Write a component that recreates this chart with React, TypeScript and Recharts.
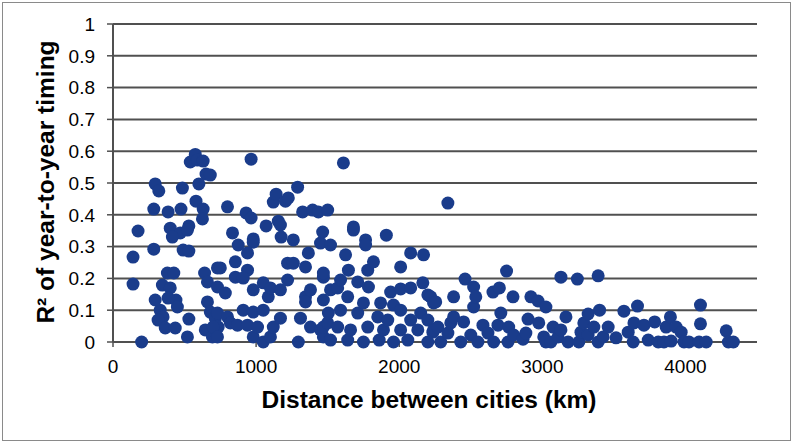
import React from 'react';
import { ScatterChart, Scatter, XAxis, YAxis, CartesianGrid } from 'recharts';

type Pt = [number, number];

// distance (km), R², grouped by distance band
const under1000: Pt[] = [
  [540, 0.566], [575, 0.59], [590, 0.572], [630, 0.569], [650, 0.528], [295, 0.497], [320, 0.475],
  [485, 0.484], [600, 0.497], [580, 0.443], [630, 0.418], [285, 0.418], [385, 0.409], [475, 0.418],
  [625, 0.387], [175, 0.349], [400, 0.358], [530, 0.365], [470, 0.343], [415, 0.33], [520, 0.352],
  [285, 0.292], [140, 0.267], [490, 0.289], [530, 0.286], [380, 0.217], [425, 0.217], [140, 0.182],
  [345, 0.179], [400, 0.17], [440, 0.132], [330, 0.1], [350, 0.079], [450, 0.11], [315, 0.069],
  [365, 0.044], [435, 0.044], [530, 0.072], [200, 0], [520, 0.016], [640, 0.217], [660, 0.189],
  [730, 0.233], [660, 0.126], [680, 0.094], [715, 0.075], [645, 0.038], [695, 0.016], [735, 0.047],
  [295, 0.132], [385, 0.138], [680, 0.525], [800, 0.425], [930, 0.406], [965, 0.39], [835, 0.343],
  [980, 0.324], [965, 0.575], [875, 0.305], [980, 0.314], [940, 0.28], [855, 0.252], [750, 0.233],
  [940, 0.226], [855, 0.204], [910, 0.201], [730, 0.173], [785, 0.154], [980, 0.164], [730, 0.091],
  [800, 0.079], [910, 0.1], [980, 0.094], [700, 0.047], [820, 0.06], [870, 0.053], [940, 0.053],
  [730, 0.016], [980, 0.016],
];

const from1000: Pt[] = [
  [1010, 0.047], [1050, 0], [1050, 0.1], [1050, 0.186], [1070, 0.365], [1085, 0.142], [1100, 0.17],
  [1100, 0.016], [1120, 0.44], [1120, 0.047], [1140, 0.465], [1155, 0.38], [1170, 0.368], [1170, 0.164],
  [1170, 0.075], [1175, 0.33], [1205, 0.443], [1220, 0.248], [1220, 0.195], [1225, 0.453], [1260, 0.321],
  [1260, 0.248], [1290, 0.487], [1295, 0], [1310, 0.075], [1325, 0.409], [1345, 0.236], [1345, 0.142],
  [1345, 0.126], [1365, 0.28], [1380, 0.164], [1380, 0.047], [1395, 0.415], [1435, 0.409], [1450, 0.311],
  [1450, 0.038], [1465, 0.346], [1470, 0.204], [1470, 0.016], [1470, 0.217], [1470, 0.132], [1470, 0.047],
  [1500, 0.415], [1500, 0.06], [1505, 0.091], [1520, 0.305], [1520, 0.164], [1520, 0.006], [1570, 0.17],
  [1570, 0.047], [1590, 0.195], [1590, 0.1], [1610, 0.563], [1625, 0.274], [1640, 0.142], [1640, 0.006],
  [1645, 0.226], [1660, 0.038], [1680, 0.362], [1680, 0.352], [1710, 0.189], [1710, 0.091], [1750, 0.123],
  [1750, 0], [1765, 0.321], [1765, 0.305], [1780, 0.226], [1780, 0.047], [1785, 0.173], [1820, 0.252],
  [1850, 0.079], [1860, 0.006], [1870, 0.123], [1890, 0.038], [1910, 0.336], [1920, 0.069], [1940, 0.157],
  [1960, 0.116], [1960, 0],
];

const from2000: Pt[] = [
  [2010, 0.236], [2010, 0.167], [2010, 0.1], [2010, 0.038], [2060, 0.006], [2080, 0.28], [2080, 0.17],
  [2080, 0.069], [2130, 0.038], [2150, 0.091], [2165, 0.186], [2170, 0.274], [2200, 0.148], [2200, 0.069],
  [2200, 0], [2220, 0.142], [2235, 0.031], [2240, 0.123], [2240, 0.038], [2255, 0.126], [2270, 0.047],
  [2290, 0], [2340, 0.437], [2340, 0.028], [2360, 0.06], [2380, 0.142], [2380, 0.079], [2430, 0],
  [2450, 0.063], [2460, 0.198], [2500, 0.022], [2520, 0.173], [2520, 0.11], [2535, 0.142], [2550, 0],
  [2585, 0.053], [2620, 0.028], [2655, 0.157], [2660, 0], [2690, 0.053], [2700, 0.17], [2710, 0.091],
  [2750, 0.223], [2760, 0], [2765, 0.047], [2795, 0.142], [2800, 0.022], [2865, 0.009], [2885, 0.028],
  [2900, 0.072], [2920, 0.142], [2970, 0.129], [2975, 0.06],
];

const from3000: Pt[] = [
  [3010, 0.016], [3025, 0.11], [3025, 0], [3060, 0], [3075, 0.047], [3110, 0.016], [3130, 0.204],
  [3130, 0.038], [3165, 0.079], [3180, 0], [3245, 0.198], [3255, 0], [3270, 0.031], [3290, 0.06],
  [3320, 0.088], [3320, 0.022], [3360, 0.047], [3390, 0.208], [3390, 0], [3400, 0.1], [3425, 0.016],
  [3460, 0.047], [3515, 0.013], [3570, 0.097], [3600, 0.031], [3635, 0], [3640, 0.06], [3665, 0.113],
  [3710, 0.053], [3740, 0.006], [3785, 0.063], [3810, 0], [3850, 0], [3865, 0.047], [3895, 0.079],
  [3900, 0.003], [3935, 0.047], [3970, 0.031], [3990, 0], [4025, 0], [4095, 0], [4105, 0.116],
  [4105, 0.057], [4145, 0], [4285, 0.035], [4300, 0], [4335, 0],
];

const xTicks = [0, 1000, 2000, 3000, 4000];
const yTicks = [0, 0.1, 0.2, 0.3, 0.4, 0.5, 0.6, 0.7, 0.8, 0.9, 1];

const points = [...under1000, ...from1000, ...from2000, ...from3000].map(([km, r2]) => ({ km, r2 }));

const FONT = '"Liberation Sans", Arial, sans-serif';
const DOT = '#1a3c8b';
const GRID = '#505050';

const Dot = (p: any) => <circle cx={p.cx} cy={p.cy} r={6.5} fill={DOT} />;

export default function App() {
  return (
    <div
      style={{
        position: 'absolute',
        left: 2,
        top: 2,
        width: 787,
        height: 437,
        border: '1px solid #8a8a8a',
        background: '#fff',
        fontFamily: FONT,
      }}
    >
      <ScatterChart width={787} height={437} margin={{ top: 21, right: 33, left: 0, bottom: 0 }}>
        <CartesianGrid vertical={false} stroke={GRID} strokeWidth={2} />
        <XAxis
          type="number"
          dataKey="km"
          domain={[0, 4500]}
          ticks={xTicks}
          height={98}
          tickSize={5}
          tickMargin={13}
          axisLine={{ stroke: GRID, strokeWidth: 2 }}
          tickLine={{ stroke: GRID, strokeWidth: 1.5 }}
          tick={{ fill: '#000', fontSize: 19, fontFamily: FONT }}
        />
        <YAxis
          type="number"
          dataKey="r2"
          domain={[0, 1]}
          ticks={yTicks}
          width={110}
          tickSize={6}
          tickMargin={12}
          axisLine={{ stroke: GRID, strokeWidth: 2 }}
          tickLine={{ stroke: GRID, strokeWidth: 1.5 }}
          tick={{ fill: '#000', fontSize: 19, fontFamily: FONT }}
        />
        <Scatter data={points} shape={Dot} isAnimationActive={false} />
      </ScatterChart>
      <div
        style={{
          position: 'absolute',
          left: 43,
          top: 179,
          transform: 'translate(-50%, -50%) rotate(-90deg)',
          whiteSpace: 'nowrap',
          fontWeight: 'bold',
          fontSize: 24.5,
        }}
      >
        R² of year-to-year timing
      </div>
      <div
        style={{
          position: 'absolute',
          left: 426,
          top: 397,
          transform: 'translate(-50%, -50%)',
          whiteSpace: 'nowrap',
          fontWeight: 'bold',
          fontSize: 24.5,
        }}
      >
        Distance between cities (km)
      </div>
    </div>
  );
}
